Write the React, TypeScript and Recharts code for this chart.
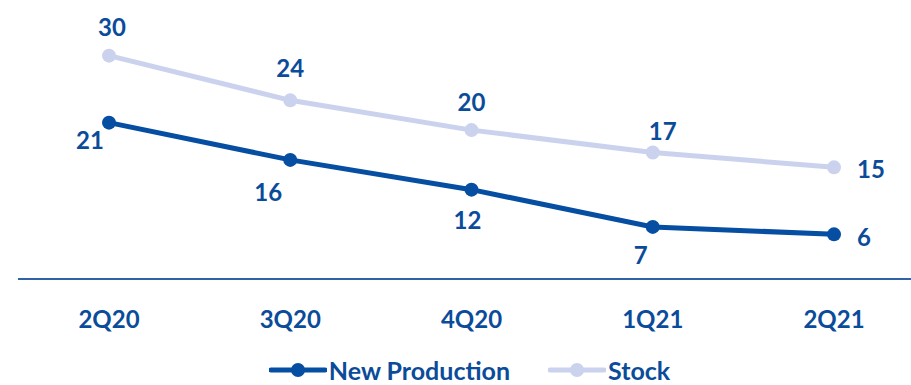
import { CartesianGrid, Legend, Line, LineChart, XAxis, YAxis } from "recharts";

const quarters = ["2Q20", "3Q20", "4Q20", "1Q21", "2Q21"];
const newProduction = [21, 16, 12, 7, 6];
const stock = [30, 24, 20, 17, 15];

const DARK = "#054ea1";
const LIGHT = "#cbd2ee";
const TEXT = "#0b4c9a";
const FONT = "Lato, 'Open Sans', sans-serif";
const WEIGHT = 700;

// label nudges relative to each point (dx, dy), matching the hand-placed labels
const newLabelOffsets: [number, number][] = [[-19, 17], [-22, 32], [-4, 30], [-12, 28], [30, 2]];
const stockLabelOffsets: [number, number][] = [[3, -29], [0, -33], [0, -29], [10, -22], [37, 1]];

const data = quarters.map((q, i) => ({ q, newProd: newProduction[i], stock: stock[i] }));

function makeLabel(offsets: [number, number][]) {
  return (props: any) => {
    const { x, y, value, index } = props;
    const [dx, dy] = offsets[index] ?? [0, -25];
    return (
      <text
        x={x + dx}
        y={y + dy}
        textAnchor="middle"
        dominantBaseline="central"
        fill={TEXT}
        fontSize={24}
        fontWeight={WEIGHT}
        fontFamily={FONT}
      >
        {value}
      </text>
    );
  };
}

function LegendContent() {
  const items = [
    { name: "New Production", color: DARK },
    { name: "Stock", color: LIGHT },
  ];
  return (
    <div
      style={{
        display: "flex",
        justifyContent: "center",
        height: 30,
        alignItems: "center",
        paddingLeft: 10,
        lineHeight: "30px",
      }}
    >
      {items.map((it, i) => (
        <div key={it.name} style={{ display: "flex", alignItems: "center", marginLeft: i ? 38 : 0 }}>
          <svg width={58} height={16}>
            <line x1={2} y1={8} x2={56} y2={8} stroke={it.color} strokeWidth={5} strokeLinecap="round" />
            <circle cx={29} cy={8} r={7} fill={it.color} />
          </svg>
          <span style={{ color: TEXT, fontFamily: FONT, fontWeight: WEIGHT, fontSize: 25, marginLeft: 2 }}>
            {it.name}
          </span>
        </div>
      ))}
    </div>
  );
}

export default function App() {
  return (
    <div style={{ position: "absolute", left: 0, top: 0, background: "#fff" }}>
      <LineChart width={911} height={385} data={data} margin={{ top: 11, right: 0, bottom: 0, left: 18 }}>
        <CartesianGrid vertical={false} horizontal={false} />
        <XAxis
          dataKey="q"
          type="category"
          scale="point"
          padding={{ left: 91, right: 77 }}
          axisLine={{ stroke: "#2f62a7", strokeWidth: 2 }}
          tickLine={false}
          tickMargin={26}
          height={76}
          tick={{ fill: TEXT, fontSize: 24, fontWeight: WEIGHT, fontFamily: FONT }}
        />
        <YAxis hide domain={[0, 36]} />
        <Legend verticalAlign="bottom" height={30} content={<LegendContent />} />
        <Line
          dataKey="stock"
          name="Stock"
          stroke={LIGHT}
          strokeWidth={5}
          dot={{ r: 7, fill: LIGHT, stroke: LIGHT, strokeWidth: 0 }}
          activeDot={false}
          label={makeLabel(stockLabelOffsets)}
          isAnimationActive={false}
        />
        <Line
          dataKey="newProd"
          name="New Production"
          stroke={DARK}
          strokeWidth={5}
          dot={{ r: 7, fill: DARK, stroke: DARK, strokeWidth: 0 }}
          activeDot={false}
          label={makeLabel(newLabelOffsets)}
          isAnimationActive={false}
        />
      </LineChart>
    </div>
  );
}
